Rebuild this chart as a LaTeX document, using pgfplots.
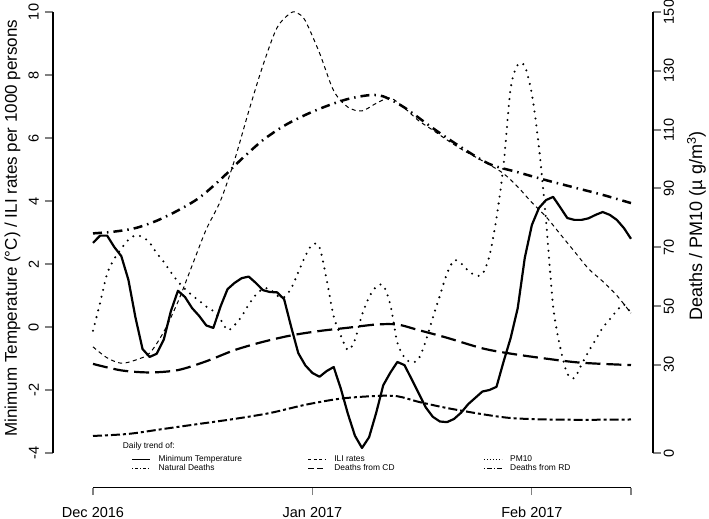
\documentclass[border=0pt]{standalone}
\usepackage{fontspec}
\setmainfont{Liberation Sans}
\usepackage{pgfplots}
\pgfplotsset{compat=1.18}
\begin{document}
\begin{tikzpicture}[x=1pt,y=1pt]
\path[use as bounding box] (0,0) rectangle (709,519);
\pgfplotsset{
  base/.style={scale only axis, width=600pt, height=441pt, at={(53pt,66pt)}, anchor=south west,
    xmin=-5.65, xmax=79.11, axis x line=none, xtick=\empty, tick align=outside, major tick length=8pt,
    y axis line style={line width=2pt}, ytick style={line width=2pt},
    /pgf/number format/assume math mode=true,
    tick label style={font=\fontsize{14.5}{17}\selectfont},
    label style={font=\fontsize{17}{20}\selectfont}},
}
% Left axis: temperature and ILI
\begin{axis}[base, ymin=-4, ymax=10, axis y line*=left, ytick={-4,-2,...,10},
  yticklabel style={rotate=90, anchor=south, inner sep=0pt}, yticklabel shift=6pt,
  ylabel={Minimum Temperature (°C) / ILI rates per 1000 persons},
  ylabel style={at={(axis description cs:-0.0675,0.51)}, anchor=center}]
\addplot[black, line width=2.2pt, line join=round] table {
0 2.67
1 2.9
2 2.9
3 2.54
4 2.25
5 1.5
6 0.3
7 -0.7
8 -0.95
9 -0.85
10 -0.4
11 0.5
12 1.15
13 0.95
14 0.6
15 0.35
16 0.05
17 -0.03
18 0.64
19 1.2
20 1.4
21 1.55
22 1.6
23 1.4
24 1.17
25 1.11
26 1.1
27 0.88
28 0.0
29 -0.83
30 -1.22
31 -1.46
32 -1.58
33 -1.4
34 -1.27
35 -1.95
36 -2.75
37 -3.45
38 -3.84
39 -3.5
40 -2.73
41 -1.85
42 -1.45
43 -1.11
44 -1.21
45 -1.65
46 -2.1
47 -2.55
48 -2.85
49 -3.0
50 -3.02
51 -2.92
52 -2.72
53 -2.45
54 -2.25
55 -2.05
56 -2.0
57 -1.9
58 -1.1
59 -0.35
60 0.6
61 2.2
62 3.24
63 3.78
64 4.03
65 4.13
66 3.8
67 3.46
68 3.4
69 3.4
70 3.45
71 3.56
72 3.65
73 3.56
74 3.4
75 3.14
76 2.8
};
\addplot[black, line width=1pt, dash pattern=on 4pt off 3.5pt, smooth] table {
0 -0.63
2 -0.98
4 -1.15
6 -1.05
8 -0.83
10 -0.15
12 0.8
14 1.95
16 3.1
18 4.0
20 5.3
22 6.85
24 8.3
26 9.5
28 9.98
29 9.95
30 9.72
32 8.7
34 7.5
36 6.98
38 6.86
40 7.1
42 7.27
44 6.95
46 6.55
48 6.25
50 5.94
52 5.65
54 5.4
56 5.15
58 4.87
60 4.45
62 3.95
64 3.5
66 2.95
68 2.4
70 1.85
72 1.45
74 1.0
76 0.44
};
\end{axis}
% Right axis: deaths and PM10
\begin{axis}[base, ymin=0, ymax=150, axis y line*=right, ytick={0,30,50,70,90,110,130,150},
  yticklabel style={rotate=90, anchor=north, inner sep=0pt}, yticklabel shift=2.6pt,
  ylabel={Deaths / PM10 (µ g/m\textsuperscript{3})},
  ylabel style={at={(axis description cs:1.0817,0.515)}, anchor=base, inner sep=0pt, font=\fontsize{18}{21}\selectfont},
  legend columns=3,
  legend style={at={(0.126,0)}, anchor=north west, draw=none, fill=none,
    font=\fontsize{8.4}{9}\selectfont, nodes={inner sep=0pt, text height=6.3pt, text depth=1.9pt},
    row sep=0.6pt, /tikz/every odd column/.append style={column sep=8pt}},
  legend cell align=left,
  legend image code/.code={\draw[#1] (0pt,0pt) -- (18pt,0pt);}]
\addlegendimage{black, line width=0.8pt}
\addlegendentry{\makebox[149pt][l]{Minimum Temperature}}
\addlegendimage{black, line width=0.8pt, dash pattern=on 3pt off 2.5pt}
\addlegendentry{\makebox[149pt][l]{ILI rates}}
\addlegendimage{black, line width=0.8pt, dash pattern=on 0.8pt off 2.2pt}
\addlegendentry{PM10}
\addlegendimage{black, line width=0.8pt, dash pattern=on 1pt off 2pt on 3pt off 2pt}
\addlegendentry{\makebox[149pt][l]{Natural Deaths}}
\addlegendimage{black, line width=0.8pt, dash pattern=on 6pt off 3pt}
\addlegendentry{\makebox[149pt][l]{Deaths from CD}}
\addlegendimage{black, line width=0.8pt, dash pattern=on 1pt off 2pt on 5pt off 2pt}
\addlegendentry{Deaths from RD}
% PM10
\addplot[forget plot, black, line width=2.3pt, line cap=round, dash pattern=on 0pt off 7pt, smooth] table {
0 41.6
1 51
2 61
3 66
4 69.5
5 72.5
6 74
7 73.5
8 71.5
9 68
10 65
11 61.5
12 58.3
13 55.8
14 53.6
15 51.8
16 49.8
17 48.3
18 45.5
19 41.8
20 43.5
21 46.5
22 50.5
23 53.8
24 55.8
25 55.8
26 53.5
27 53
28 56
29 61.5
30 67
31 71
32 70
33 59
34 46.5
35 40
36 35
37 38.5
38 47
39 53
40 56.5
41 57
42 50.5
43 37.5
44 32.5
45 30.8
46 32
47 38
48 46
49 53.5
50 61
51 65.5
52 64.5
53 62
54 60.5
55 60.8
56 67
57 80
58 98
59 124
60 132
61 131.5
62 122
63 104
64 79
65 50
66 36
67 27
68 25.5
69 30
70 34.5
71 38.5
72 42.6
73 45.5
74 48.4
75 50.5
76 47.5
};
% Natural deaths
\addplot[forget plot, black, line width=2.5pt, dash pattern=on 9pt off 5pt on 1.5pt off 5pt, smooth] table {
0 74.7
3 75.3
6 76.5
9 79
12 82.5
15 86.8
18 93
21 100
24 106.4
27 111.3
30 115
33 118
36 120.4
39 121.7
41 121.3
44 117.5
48 110.5
52 104
56 98.3
60 95.5
64 92.8
68 90.3
72 87.8
76 85
};
% Deaths from CD
\addplot[forget plot, black, line width=2.2pt, dash pattern=on 15pt off 6pt, smooth] table {
0 30.3
4 28.1
8 27.4
12 28.2
16 31.2
20 35
24 37.8
28 40
32 41.5
36 42.6
40 43.7
43 43.7
46 41.8
50 39.2
55 35.6
59 33.8
64 32.1
69 30.7
76 29.9
};
% Deaths from RD
\addplot[forget plot, black, line width=2pt, dash pattern=on 9pt off 3pt on 3pt off 3pt, smooth] table {
0 5.8
5 6.5
10 8.2
15 9.9
20 11.6
25 13.6
30 16.4
35 18.5
40 19.4
43 19.3
46 17.4
50 15.3
55 13.2
59 11.9
64 11.4
70 11.3
76 11.4
};
\node[anchor=west, font=\fontsize{8.4}{9}\selectfont, inner sep=0pt] at (rel axis cs:0.1162,0.0147) {Daily trend of:};
\end{axis}
% Date axis
\begin{axis}[scale only axis, width=538pt, height=20pt, at={(93pt,31.3pt)}, anchor=south west,
  xmin=0, xmax=76, ymin=0, ymax=1, axis x line*=bottom, axis y line=none, ytick=\empty,
  xtick={0,31,62,76}, xticklabels={Dec 2016,Jan 2017,Feb 2017,{}},
  tick align=outside, major tick length=7.5pt,
  x axis line style={line width=1.2pt}, xtick style={line width=1.2pt},
  xticklabel style={anchor=base, inner sep=0pt, font=\fontsize{14.5}{17}\selectfont}, xticklabel shift=22pt]
\end{axis}
\end{tikzpicture}
\end{document}
